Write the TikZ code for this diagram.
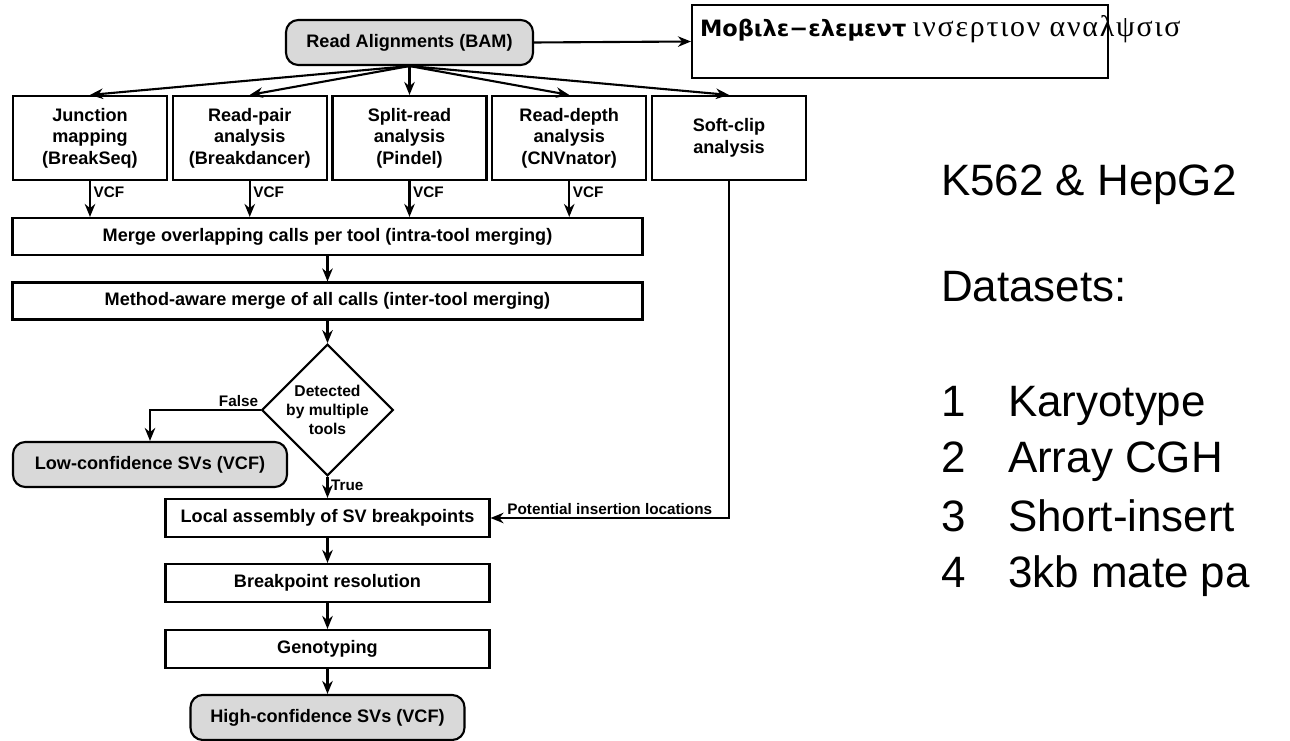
\documentclass[tikz,border=0pt]{standalone}
\usepackage{fontspec}
\setmainfont{Liberation Sans}
\newfontfamily\greeksans{DejaVu Sans}
\newfontfamily\greekserif[LetterSpace=6]{Liberation Serif}
\usetikzlibrary{arrows.meta,positioning,shapes.geometric,calc}

\begin{document}
\begin{tikzpicture}[
    font=\bfseries\fontsize{10.3}{12.3}\selectfont,
    line width=1.2pt,
    block/.style={
        draw,
        align=center,
        minimum height=7.6mm,
        inner sep=2pt,
        fill=white
    },
    tool/.style={block, minimum width=30.8mm, minimum height=16.8mm},
    wide/.style={block, minimum width=126mm, minimum height=7.4mm},
    stage/.style={block, minimum width=64.8mm},
    terminal/.style={block, rounded corners=7pt, fill=black!15, minimum width=54.8mm, minimum height=9mm},
    decision/.style={
        draw,
        diamond,
        aspect=1,
        minimum width=24.8mm,
        minimum height=24.8mm,
        inner sep=0pt,
        align=center,
        fill=white,
        font=\bfseries\fontsize{8.9}{10.7}\selectfont
    },
    tag/.style={font=\bfseries\fontsize{8.7}{10}\selectfont, inner sep=1.5pt},
    flow/.style={-{Stealth[length=2.6mm,width=2.1mm]}},
    slide/.style={font=\fontsize{25}{30}\selectfont, anchor=base west, inner sep=0pt}
]

\useasboundingbox (0,0) rectangle (25.8,-14.82);
\clip (0,0) rectangle (25.8,-14.82);

\node[terminal, minimum width=49.4mm] (bam) at (8.19,-0.85) {Read Alignments (BAM)};
\node[block, minimum width=83.2mm, minimum height=14.6mm, inner sep=0pt, fill=none] (mea) at (18.0,-0.83) {};
\node[anchor=base west, inner sep=0pt, font=\fontsize{12.8}{14}\selectfont] (meaText) at ($(mea.west)+(0.16,0.09)$)
    {{\greeksans\bfseries Μοβιλε−ελεμεντ} {\greekserif\mdseries\fontsize{17}{19}\selectfont ινσερτιον αναλψσισ}};

\node[tool] (junction) at (1.8,-2.76) {Junction\\mapping\\(BreakSeq)};
\node[tool] (pair) at (4.995,-2.76) {Read-pair\\analysis\\(Breakdancer)};
\node[tool] (split) at (8.19,-2.76) {Split-read\\analysis\\(Pindel)};
\node[tool] (depth) at (11.385,-2.76) {Read-depth\\analysis\\(CNVnator)};
\node[tool] (softclip) at (14.58,-2.76) {Soft-clip\\analysis};

\node[wide] (intra) at (6.55,-4.73) {Merge overlapping calls per tool (intra-tool merging)};
\node[wide] (inter) at (6.55,-6.02) {Method-aware merge of all calls (inter-tool merging)};

\node[decision] (multi) at (6.55,-8.2) {Detected\\by multiple\\tools};
\node[terminal] (low) at (3.0,-9.29) {Low-confidence SVs (VCF)};

\node[stage] (assembly) at (6.55,-10.36) {Local assembly of SV breakpoints};
\node[stage] (resolution) at (6.55,-11.66) {Breakpoint resolution};
\node[stage] (genotype) at (6.55,-12.98) {Genotyping};
\node[terminal] (high) at (6.55,-14.35) {High-confidence SVs (VCF)};

% datasets text on the right
\node[slide] (cells) at (18.8,-3.92) {K562 \& HepG2};
\node[slide] (datasets) at (18.8,-6.04) {Datasets:};
\node[slide] (n1) at (18.8,-8.34) {1};
\node[slide] (d1) at (20.14,-8.34) {Karyotype};
\node[slide] (n2) at (18.8,-9.46) {2};
\node[slide] (d2) at (20.14,-9.46) {Array CGH};
\node[slide] (n3) at (18.8,-10.64) {3};
\node[slide] (d3) at (20.14,-10.64) {Short-insert};
\node[slide] (n4) at (18.8,-11.76) {4};
\node[slide] (d4) at (20.14,-11.76) {3kb mate pa};

\draw[flow] (bam.east) -- (mea.west);

\draw[flow] (bam.south) -- (junction.north);
\draw[flow] (bam.south) -- (pair.north);
\draw[flow] (bam.south) -- (split.north);
\draw[flow] (bam.south) -- (depth.north);
\draw[flow] (bam.south) -- (softclip.north);

\draw[flow] (junction.south) -- node[tag, pos=0.3, right] {VCF} (junction.south |- intra.north);
\draw[flow] (pair.south) -- node[tag, pos=0.3, right] {VCF} (pair.south |- intra.north);
\draw[flow] (split.south) -- node[tag, pos=0.3, right] {VCF} (split.south |- intra.north);
\draw[flow] (depth.south) -- node[tag, pos=0.3, right] {VCF} (depth.south |- intra.north);

\draw[flow] (intra) -- (inter);
\draw[flow] (inter) -- (multi);
\draw[flow] (multi.west) -| node[tag, pos=0.1, above] {False} (low.north);
\draw[flow] (multi.south) -- node[tag, pos=0.4, right] {True} (assembly.north);
\draw[flow] (softclip.south) |- node[tag, pos=0.75, above] {Potential insertion locations} (assembly.east);

\draw[flow] (assembly) -- (resolution);
\draw[flow] (resolution) -- (genotype);
\draw[flow] (genotype) -- (high);

\end{tikzpicture}
\end{document}
